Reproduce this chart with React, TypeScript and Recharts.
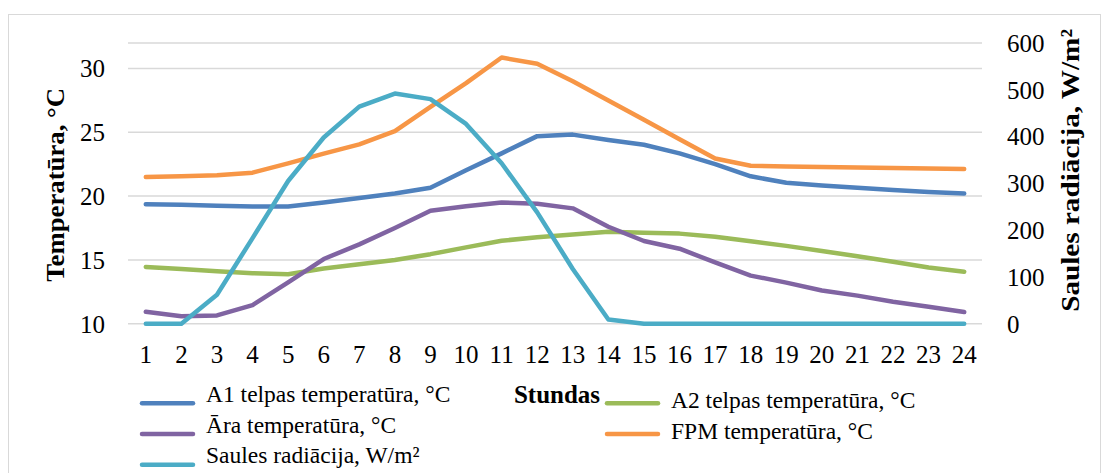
import React from 'react';
import { ComposedChart, Line, XAxis, YAxis, CartesianGrid } from 'recharts';

const hours = [1, 2, 3, 4, 5, 6, 7, 8, 9, 10, 11, 12, 13, 14, 15, 16, 17, 18, 19, 20, 21, 22, 23, 24];

const a1Temp = [19.37, 19.32, 19.25, 19.19, 19.19, 19.5, 19.85, 20.2, 20.66, 22.02, 23.35, 24.7, 24.82, 24.4, 24.03, 23.35, 22.5, 21.55, 21.05, 20.83, 20.65, 20.47, 20.33, 20.2];
const a2Temp = [14.45, 14.28, 14.12, 13.96, 13.87, 14.33, 14.66, 15.0, 15.45, 15.98, 16.5, 16.78, 17.0, 17.2, 17.12, 17.06, 16.82, 16.47, 16.1, 15.7, 15.28, 14.86, 14.4, 14.07];
const araTemp = [10.94, 10.58, 10.65, 11.46, 13.24, 15.07, 16.22, 17.5, 18.85, 19.2, 19.5, 19.4, 19.04, 17.6, 16.48, 15.88, 14.8, 13.77, 13.22, 12.6, 12.2, 11.72, 11.33, 10.91];
const fpmTemp = [21.5, 21.56, 21.63, 21.84, 22.56, 23.33, 24.06, 25.1, 27.0, 28.85, 30.86, 30.37, 29.0, 27.5, 25.98, 24.46, 22.95, 22.38, 22.32, 22.28, 22.25, 22.21, 22.16, 22.12];
const radiation = [0, 0, 62, 183, 305, 398, 464, 492, 480, 427, 343, 238, 117, 9, 0, 0, 0, 0, 0, 0, 0, 0, 0, 0];

const leftTicks = [10, 15, 20, 25, 30];
const rightTicks = [0, 100, 200, 300, 400, 500, 600];

const series = [
  { key: 'a1', name: 'A1 telpas temperatūra, °C', color: '#4F81BD', axis: 'left', values: a1Temp },
  { key: 'a2', name: 'A2 telpas temperatūra, °C', color: '#9BBB59', axis: 'left', values: a2Temp },
  { key: 'ara', name: 'Āra temperatūra, °C', color: '#8064A2', axis: 'left', values: araTemp },
  { key: 'fpm', name: 'FPM temperatūra, °C', color: '#F79646', axis: 'left', values: fpmTemp },
  { key: 'rad', name: 'Saules radiācija, W/m²', color: '#4BACC6', axis: 'right', values: radiation },
];

const data = hours.map((h, i) => {
  const row: Record<string, number> = { hour: h };
  series.forEach((s) => {
    row[s.key] = s.values[i];
  });
  return row;
});

const FONT = '"Liberation Serif", "Times New Roman", serif';
const W = 1103;
const H = 473;

const tickStyle = { fill: '#000', fontSize: 25, fontFamily: FONT };

function LeftTitle(props: any) {
  const vb = props.viewBox;
  const x = vb.x + 64.5;
  const y = vb.y + vb.height / 2 + 1.5;
  return (
    <text x={x} y={y} transform={`rotate(-90 ${x} ${y})`} textAnchor="middle"
      fontFamily={FONT} fontSize={26} fontWeight="bold" fill="#000"
      textLength={194} lengthAdjust="spacingAndGlyphs">
      Temperatūra, °C
    </text>
  );
}

function RightTitle(props: any) {
  const vb = props.viewBox;
  const x = vb.x + 97;
  const y = vb.y + vb.height / 2 - 13;
  return (
    <text x={x} y={y} transform={`rotate(-90 ${x} ${y})`} textAnchor="middle"
      fontFamily={FONT} fontSize={26} fontWeight="bold" fill="#000"
      textLength={283} lengthAdjust="spacingAndGlyphs">
      Saules radiācija, W/m²
    </text>
  );
}

function BottomTitle(props: any) {
  const vb = props.viewBox;
  return (
    <text x={vb.x + vb.width / 2 + 2} y={vb.y + 79} textAnchor="middle"
      fontFamily={FONT} fontSize={25} fontWeight="bold" fill="#000">
      Stundas
    </text>
  );
}

function LegendOverlay() {
  return (
    <svg width={W} height={H} style={{ position: 'absolute', left: 0, top: 0, pointerEvents: 'none' }}>
      {series.map((s, i) => {
        const col = i % 2;
        const row = Math.floor(i / 2);
        const lx = col ? 607 : 142;
        const ly = 403.3 + row * 30.7;
        const ty = ly + (col ? 5 : -1.5);
        return (
          <g key={s.key}>
            <line x1={lx} x2={lx + 51} y1={ly} y2={ly} stroke={s.color} strokeWidth={4.5} strokeLinecap="round" />
            <text x={lx + 64} y={ty} fontFamily={FONT} fontSize={23.5} fill="#000">{s.name}</text>
          </g>
        );
      })}
    </svg>
  );
}

export default function App() {
  return (
    <div style={{ position: 'fixed', left: 0, top: 0, width: W, height: H, overflow: 'hidden', background: '#fff' }}>
      <div style={{ position: 'absolute', left: 8, top: 14, width: 1093, height: 480, borderLeft: '1.5px solid #d9d9d9', borderTop: '1.5px solid #d9d9d9', borderRight: '1.5px solid #d9d9d9', boxSizing: 'border-box' }} />
      <div style={{ position: 'absolute', left: 0, top: 0 }}>
        <ComposedChart width={W} height={H} data={data} margin={{ top: 43, right: 0, left: 0, bottom: 109.3 }}>
          <CartesianGrid yAxisId="left" vertical={false} stroke="#d9d9d9" strokeWidth={1.5} />
          <XAxis dataKey="hour" type="category" height={40} axisLine={false} tickLine={false}
            padding={{ left: 17.8, right: 17.8 }}
            tickSize={0} tickMargin={22} tick={tickStyle} interval={0} label={<BottomTitle />} />
          <YAxis yAxisId="left" orientation="left" width={128} domain={[10, 32]} ticks={leftTicks}
            axisLine={false} tickLine={false} tickSize={0} tickMargin={23} tick={tickStyle}
            allowDataOverflow label={<LeftTitle />} />
          <YAxis yAxisId="right" orientation="right" width={121} domain={[0, 600]} ticks={rightTicks}
            axisLine={false} tickLine={false} tickSize={0} tickMargin={25} tick={{ ...tickStyle, textAnchor: 'start' }}
            label={<RightTitle />} />
          {series.map((s) => (
            <Line key={s.key} yAxisId={s.axis} type="linear" dataKey={s.key} name={s.name}
              stroke={s.color} strokeWidth={4.5} strokeLinecap="round" strokeLinejoin="round"
              dot={false} activeDot={false} isAnimationActive={false} />
          ))}
        </ComposedChart>
      </div>
      <LegendOverlay />
    </div>
  );
}
